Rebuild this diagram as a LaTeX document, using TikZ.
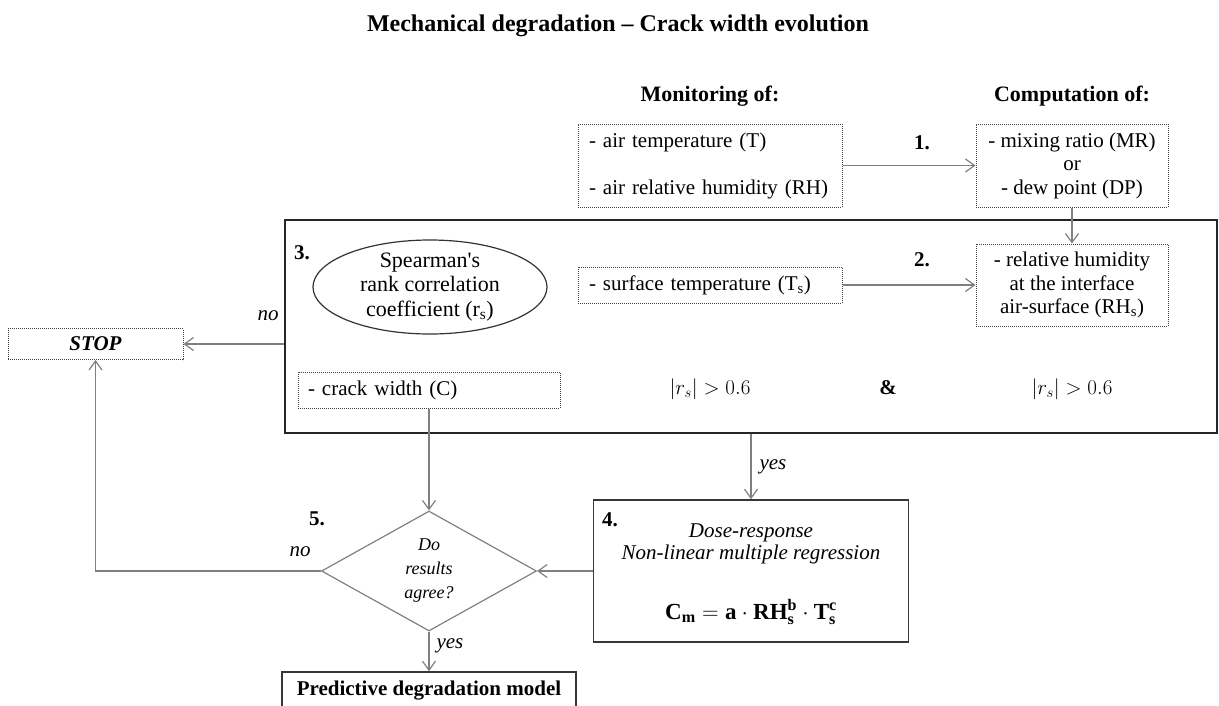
\RequirePackage{fix-cm}
\documentclass[tikz,border=0pt]{standalone}
\usepackage{fontspec}
\setmainfont{Liberation Serif}
\usetikzlibrary{arrows.meta,positioning,shapes.geometric}
\definecolor{LineGrey}{RGB}{128,128,128}
\definecolor{BoxGrey}{RGB}{55,55,55}

\begin{document}
\begin{tikzpicture}[x=1pt,y=-1pt,>={Straight Barb[length=9pt,width=13pt]},
  txt/.style={font=\fontsize{21}{23.5}\selectfont},
  dotbox/.style={draw=black!75,dash pattern=on 1pt off 1pt,line width=1pt,txt,inner sep=0pt},
  solidbox/.style={draw=BoxGrey,line width=1.6pt,inner sep=0pt},
  flow/.style={->,draw=LineGrey,line width=1.2pt},
  num/.style={font=\fontsize{21}{24}\selectfont\bfseries},
  ans/.style={font=\fontsize{21}{22}\selectfont\itshape}]
  \useasboundingbox (0,0) rectangle (1219,705);
  \clip (0,0) rectangle (1219,705);

  \node[font=\fontsize{24}{28}\selectfont\bfseries] (title) at (618,26)
    {Mechanical degradation -- Crack width evolution};
  \node[num,font=\fontsize{22}{24}\selectfont\bfseries] (mon) at (710,96) {Monitoring of:};
  \node[num,font=\fontsize{22}{24}\selectfont\bfseries] (comp) at (1072,96) {Computation of:};

  \node[dotbox,minimum width=264,minimum height=83,text width=242,align=left] (air) at (710,165.5)
    {- air temperature (T)\\[23.5pt]- air relative humidity (RH)};
  \node[dotbox,minimum width=192,minimum height=83,align=center] (mix) at (1072,165.5)
    {- mixing ratio (MR)\\or\\- dew point (DP)};
  \node[num] (s1) at (922,143) {1.};
  \draw[flow] (air) -- (mix);

  \node[draw=black!85,line width=1.8pt,minimum width=932,minimum height=213,inner sep=0pt] (corr) at (751,326.5) {};
  \node[num] (s3) at (302,253) {3.};
  \node[ellipse,draw=black!80,line width=1.2pt,minimum width=234,minimum height=94,inner sep=0pt] (rank) at (430,287) {};
  \node[font=\fontsize{22}{24.5}\selectfont,align=center] (ranktxt) at (430,287)
    {Spearman\textquotesingle s\\rank correlation\\coefficient (r\textsubscript{s})};

  \node[dotbox,minimum width=264,minimum height=36,text width=242,align=left] (surf) at (710,285)
    {- surface temperature (T\textsubscript{s})};
  \node[dotbox,minimum width=192,minimum height=82,align=center] (rhs) at (1072,285)
    {- relative humidity\\at the interface\\air-surface (RH\textsubscript{s})};
  \node[num] (s2) at (922,260) {2.};
  \draw[flow] (surf) -- (rhs);
  \draw[flow] (mix) -- (rhs);

  \node[dotbox,minimum width=262,minimum height=36,text width=242,align=left] (crack) at (429,390)
    {- crack width (C)};
  \node[txt] (rsa) at (710,389) {$\left|r_{s}\right| > 0.6$};
  \node[num] (amp) at (888,388) {\&};
  \node[txt] (rsb) at (1072,389) {$\left|r_{s}\right| > 0.6$};

  \node[dotbox,minimum width=175,minimum height=31,font=\fontsize{21}{24}\selectfont\bfseries\itshape] (stop) at (95.5,344) {STOP};
  \draw[flow] (stop.east -| corr.west) -- (stop.east);
  \node[ans] (no1) at (268,316) {no};

  \node[diamond,draw=LineGrey,line width=1.2pt,aspect=1.8,minimum width=215,minimum height=120,inner sep=0pt,
    align=center,font=\fontsize{18}{24}\selectfont\itshape] (agree) at (429,571) {Do\\results\\agree?};
  \node[num] (s5) at (317,519) {5.};
  \draw[flow] (crack) -- (agree);

  \node[solidbox,minimum width=315,minimum height=142] (reg) at (751,571) {};
  \node[num] (s4) at (610,520) {4.};
  \node[ans,align=center] (dose) at (751,544) {Dose-response\\Non-linear multiple regression};
  \node[font=\fontsize{23}{26}\selectfont] (cm) at (751,612)
    {$\mathbf{C}_{\mathbf{m}} = \mathbf{a}\cdot\mathbf{RH}_{\mathbf{s}}^{\mathbf{b}}\cdot\mathbf{T}_{\mathbf{s}}^{\mathbf{c}}$};
  \draw[flow] (corr.south) -- (reg.north);
  \node[ans] (yes1) at (773,467) {yes};
  \draw[flow] (reg.west) -- (agree.east);

  \draw[flow] (agree.west) -- (agree.west -| stop.south) -- (stop.south);
  \node[ans] (no2) at (300,552) {no};

  \node[solidbox,minimum width=294,minimum height=38,font=\fontsize{21}{24}\selectfont\bfseries] (model) at (429,691)
    {Predictive degradation model};
  \draw[flow] (agree.south) -- (model.north);
  \node[ans] (yes2) at (450,646) {yes};
\end{tikzpicture}
\end{document}
